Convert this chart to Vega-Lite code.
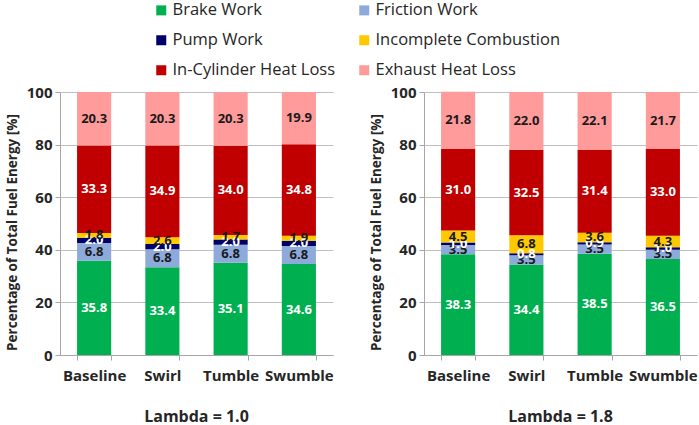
{
  "$schema": "https://vega.github.io/schema/vega-lite/v6.json",
  "padding": {"left": 5, "top": 2, "right": 0, "bottom": 0},
  "datasets": {
    "energy": [
      {"lambda": "1.0", "case": "Baseline", "series": "Brake Work", "order": 1, "value": 35.8},
      {"lambda": "1.0", "case": "Baseline", "series": "Friction Work", "order": 2, "value": 6.8},
      {"lambda": "1.0", "case": "Baseline", "series": "Pump Work", "order": 3, "value": 2.0},
      {"lambda": "1.0", "case": "Baseline", "series": "Incomplete Combustion", "order": 4, "value": 1.8},
      {"lambda": "1.0", "case": "Baseline", "series": "In-Cylinder Heat Loss", "order": 5, "value": 33.3},
      {"lambda": "1.0", "case": "Baseline", "series": "Exhaust Heat Loss", "order": 6, "value": 20.3},
      {"lambda": "1.0", "case": "Swirl", "series": "Brake Work", "order": 1, "value": 33.4},
      {"lambda": "1.0", "case": "Swirl", "series": "Friction Work", "order": 2, "value": 6.8},
      {"lambda": "1.0", "case": "Swirl", "series": "Pump Work", "order": 3, "value": 2.0},
      {"lambda": "1.0", "case": "Swirl", "series": "Incomplete Combustion", "order": 4, "value": 2.6},
      {"lambda": "1.0", "case": "Swirl", "series": "In-Cylinder Heat Loss", "order": 5, "value": 34.9},
      {"lambda": "1.0", "case": "Swirl", "series": "Exhaust Heat Loss", "order": 6, "value": 20.3},
      {"lambda": "1.0", "case": "Tumble", "series": "Brake Work", "order": 1, "value": 35.1},
      {"lambda": "1.0", "case": "Tumble", "series": "Friction Work", "order": 2, "value": 6.8},
      {"lambda": "1.0", "case": "Tumble", "series": "Pump Work", "order": 3, "value": 2.0},
      {"lambda": "1.0", "case": "Tumble", "series": "Incomplete Combustion", "order": 4, "value": 1.7},
      {"lambda": "1.0", "case": "Tumble", "series": "In-Cylinder Heat Loss", "order": 5, "value": 34.0},
      {"lambda": "1.0", "case": "Tumble", "series": "Exhaust Heat Loss", "order": 6, "value": 20.3},
      {"lambda": "1.0", "case": "Swumble", "series": "Brake Work", "order": 1, "value": 34.6},
      {"lambda": "1.0", "case": "Swumble", "series": "Friction Work", "order": 2, "value": 6.8},
      {"lambda": "1.0", "case": "Swumble", "series": "Pump Work", "order": 3, "value": 2.0},
      {"lambda": "1.0", "case": "Swumble", "series": "Incomplete Combustion", "order": 4, "value": 1.9},
      {"lambda": "1.0", "case": "Swumble", "series": "In-Cylinder Heat Loss", "order": 5, "value": 34.8},
      {"lambda": "1.0", "case": "Swumble", "series": "Exhaust Heat Loss", "order": 6, "value": 19.9},
      {"lambda": "1.8", "case": "Baseline", "series": "Brake Work", "order": 1, "value": 38.3},
      {"lambda": "1.8", "case": "Baseline", "series": "Friction Work", "order": 2, "value": 3.5},
      {"lambda": "1.8", "case": "Baseline", "series": "Pump Work", "order": 3, "value": 1.0},
      {"lambda": "1.8", "case": "Baseline", "series": "Incomplete Combustion", "order": 4, "value": 4.5},
      {"lambda": "1.8", "case": "Baseline", "series": "In-Cylinder Heat Loss", "order": 5, "value": 31.0},
      {"lambda": "1.8", "case": "Baseline", "series": "Exhaust Heat Loss", "order": 6, "value": 21.8},
      {"lambda": "1.8", "case": "Swirl", "series": "Brake Work", "order": 1, "value": 34.4},
      {"lambda": "1.8", "case": "Swirl", "series": "Friction Work", "order": 2, "value": 3.5},
      {"lambda": "1.8", "case": "Swirl", "series": "Pump Work", "order": 3, "value": 0.8},
      {"lambda": "1.8", "case": "Swirl", "series": "Incomplete Combustion", "order": 4, "value": 6.8},
      {"lambda": "1.8", "case": "Swirl", "series": "In-Cylinder Heat Loss", "order": 5, "value": 32.5},
      {"lambda": "1.8", "case": "Swirl", "series": "Exhaust Heat Loss", "order": 6, "value": 22.0},
      {"lambda": "1.8", "case": "Tumble", "series": "Brake Work", "order": 1, "value": 38.5},
      {"lambda": "1.8", "case": "Tumble", "series": "Friction Work", "order": 2, "value": 3.5},
      {"lambda": "1.8", "case": "Tumble", "series": "Pump Work", "order": 3, "value": 0.9},
      {"lambda": "1.8", "case": "Tumble", "series": "Incomplete Combustion", "order": 4, "value": 3.6},
      {"lambda": "1.8", "case": "Tumble", "series": "In-Cylinder Heat Loss", "order": 5, "value": 31.4},
      {"lambda": "1.8", "case": "Tumble", "series": "Exhaust Heat Loss", "order": 6, "value": 22.1},
      {"lambda": "1.8", "case": "Swumble", "series": "Brake Work", "order": 1, "value": 36.5},
      {"lambda": "1.8", "case": "Swumble", "series": "Friction Work", "order": 2, "value": 3.5},
      {"lambda": "1.8", "case": "Swumble", "series": "Pump Work", "order": 3, "value": 1.0},
      {"lambda": "1.8", "case": "Swumble", "series": "Incomplete Combustion", "order": 4, "value": 4.3},
      {"lambda": "1.8", "case": "Swumble", "series": "In-Cylinder Heat Loss", "order": 5, "value": 33.0},
      {"lambda": "1.8", "case": "Swumble", "series": "Exhaust Heat Loss", "order": 6, "value": 21.7}
    ]
  },
  "config": {
    "font": "Open Sans",
    "view": {"stroke": null},
    "axis": {
      "labelFont": "Open Sans",
      "labelFontWeight": "bold",
      "labelFontSize": 15,
      "labelColor": "#262626",
      "titleColor": "#262626",
      "domainColor": "#A6A6A6",
      "tickColor": "#A6A6A6",
      "gridColor": "#BFBFBF",
      "tickSize": 5
    },
    "title": {"font": "Open Sans", "fontSize": 16, "fontWeight": "bold", "color": "#262626"}
  },
  "spacing": 35,
  "hconcat": [
    {
      "width": 273,
      "height": 263,
      "title": {"text": "Lambda = 1.0", "orient": "bottom", "offset": 26},
      "data": {"name": "energy"},
      "transform": [
        {"filter": "datum.lambda === '1.0'"},
        {"stack": "value", "groupby": ["case"], "sort": [{"field": "order"}], "as": ["v0", "v1"]},
        {"calculate": "(datum.v0 + datum.v1) / 2", "as": "mid"}
      ],
      "encoding": {
        "x": {
          "field": "case", "type": "nominal",
          "sort": ["Baseline", "Swirl", "Tumble", "Swumble"],
          "scale": {"paddingInner": 0.5, "paddingOuter": 0.25},
          "axis": {"title": null, "labelAngle": 0, "tickBand": "extent", "labelPadding": 8}
        }
      },
      "layer": [
        {
          "mark": {"type": "bar"},
          "encoding": {
            "y": {
              "field": "v0", "type": "quantitative",
              "scale": {"domain": [0, 100], "nice": false},
              "axis": {"title": "Percentage of Total Fuel Energy  [%]", "titleFontSize": 13.5, "titleFontWeight": "bold", "titleY": 140, "values": [0, 20, 40, 60, 80, 100], "grid": true, "labelPadding": 3, "titlePadding": 7}
            },
            "y2": {"field": "v1"},
            "color": {
              "field": "series", "type": "nominal",
              "scale": {
                "domain": ["Brake Work", "Friction Work", "Pump Work", "Incomplete Combustion", "In-Cylinder Heat Loss", "Exhaust Heat Loss"],
                "range": ["#00B050", "#8EAADB", "#00006B", "#FFC800", "#C00000", "#FF9B9B"]
              },
              "legend": {
                "orient": "none", "legendX": 93, "legendY": -90, "columns": 2, "direction": "horizontal", "title": null,
                "symbolType": "square", "symbolSize": 100, "symbolStrokeWidth": 0,
                "labelFontSize": 16.5, "labelColor": "#262626", "labelFont": "Open Sans", "labelLimit": 400,
                "columnPadding": 20, "rowPadding": 13, "labelOffset": 3
              }
            }
          }
        },
        {
          "mark": {"type": "text", "fontWeight": "bold", "fontSize": 13, "font": "Open Sans"},
          "encoding": {
            "y": {"field": "mid", "type": "quantitative"},
            "text": {"field": "value", "type": "quantitative", "format": ".1f"},
            "color": {
              "condition": {"test": "datum.series === 'Brake Work' || datum.series === 'Pump Work' || datum.series === 'In-Cylinder Heat Loss'", "value": "#FFFFFF"},
              "value": "#1A1A1A"
            }
          }
        }
      ]
    },
    {
      "width": 273,
      "height": 263,
      "title": {"text": "Lambda = 1.8", "orient": "bottom", "offset": 26},
      "data": {"name": "energy"},
      "transform": [
        {"filter": "datum.lambda === '1.8'"},
        {"stack": "value", "groupby": ["case"], "sort": [{"field": "order"}], "as": ["v0", "v1"]},
        {"calculate": "(datum.v0 + datum.v1) / 2", "as": "mid"}
      ],
      "encoding": {
        "x": {
          "field": "case", "type": "nominal",
          "sort": ["Baseline", "Swirl", "Tumble", "Swumble"],
          "scale": {"paddingInner": 0.5, "paddingOuter": 0.25},
          "axis": {"title": null, "labelAngle": 0, "tickBand": "extent", "labelPadding": 8}
        }
      },
      "layer": [
        {
          "mark": {"type": "bar"},
          "encoding": {
            "y": {
              "field": "v0", "type": "quantitative",
              "scale": {"domain": [0, 100], "nice": false},
              "axis": {"title": "Percentage of Total Fuel Energy  [%]", "titleFontSize": 13.5, "titleFontWeight": "bold", "titleY": 140, "values": [0, 20, 40, 60, 80, 100], "grid": true, "labelPadding": 3, "titlePadding": 7}
            },
            "y2": {"field": "v1"},
            "color": {"field": "series", "type": "nominal"}
          }
        },
        {
          "mark": {"type": "text", "fontWeight": "bold", "fontSize": 13, "font": "Open Sans"},
          "encoding": {
            "y": {"field": "mid", "type": "quantitative"},
            "text": {"field": "value", "type": "quantitative", "format": ".1f"},
            "color": {
              "condition": {"test": "datum.series === 'Brake Work' || datum.series === 'Pump Work' || datum.series === 'In-Cylinder Heat Loss'", "value": "#FFFFFF"},
              "value": "#1A1A1A"
            }
          }
        }
      ]
    }
  ],
  "resolve": {"scale": {"color": "shared", "y": "independent"}}
}
